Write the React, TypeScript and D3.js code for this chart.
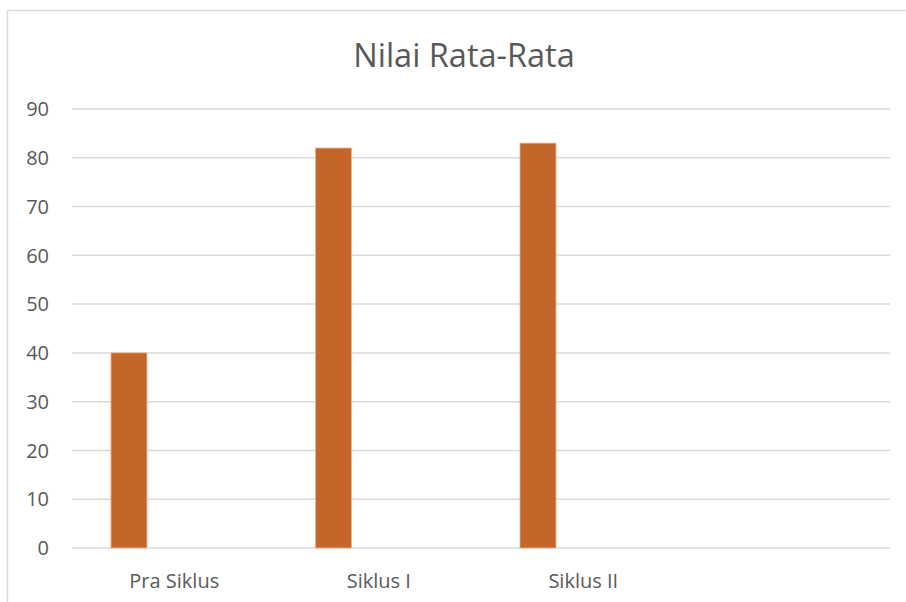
import React from "react";
import * as d3 from "d3";

const categories = ["Pra Siklus", "Siklus I", "Siklus II", ""];
const seriesNames = ["Series1", "Series2", "Series3"];
const series1 = [40, 82, 83, null];
const yTicks = [0, 10, 20, 30, 40, 50, 60, 70, 80, 90];
const title = "Nilai Rata-Rata";

const width = 906,
  height = 602;
const margin = { top: 109, right: 16, bottom: 54, left: 72 };
const font = "'Open Sans', 'Noto Sans', sans-serif";
const textColor = "#595959";
const gridColor = "#d9d9d9";
const barColor = "#c4662a";

const App = () => {
  const x = d3
    .scaleBand<string>()
    .domain(categories.map((c, i) => `${i}`))
    .range([margin.left, width - margin.right])
    .padding(0);

  // hidden empty series push the first bar left inside each category
  const xInner = d3
    .scaleBand<string>()
    .domain(seriesNames)
    .range([0, x.bandwidth()])
    .paddingInner(0)
    .paddingOuter(1.34)
    .align(0.404);

  const y = d3
    .scaleLinear()
    .domain([0, 90])
    .range([height - margin.bottom, margin.top]);

  return (
    <div style={{ position: "fixed", left: 0, top: 0 }}>
      <svg width={width} height={height} style={{ display: "block", background: "#fff" }}>
        <rect
          x={7.5}
          y={10.5}
          width={width + 20}
          height={height + 20}
          fill="#fff"
          stroke={gridColor}
          strokeWidth={1.5}
        />
        <text
          x={width / 2 + 11}
          y={67}
          textAnchor="middle"
          fill={textColor}
          style={{ font: `32.5px ${font}` }}
        >
          {title}
        </text>
        <g>
          {yTicks.map((t) => (
            <g key={t}>
              <line
                x1={margin.left}
                x2={width - margin.right}
                y1={y(t)}
                y2={y(t)}
                stroke={gridColor}
                strokeWidth={1.5}
              />
              <text
                x={49}
                y={y(t)}
                dy="0.36em"
                textAnchor="end"
                fill={textColor}
                style={{ font: `20px ${font}` }}
              >
                {t}
              </text>
            </g>
          ))}
        </g>
        <g>
          {series1.map((v, i) =>
            v == null ? null : (
              <rect
                key={i}
                x={(x(`${i}`) ?? 0) + (xInner(seriesNames[0]) ?? 0)}
                y={y(v)}
                width={xInner.bandwidth()}
                height={y(0) - y(v)}
                fill={barColor}
                stroke="#f0b48c"
                strokeWidth={0.75}
              />
            )
          )}
        </g>
        <g>
          {categories.map((c, i) => (
            <text
              key={i}
              x={(x(`${i}`) ?? 0) + x.bandwidth() / 2}
              y={588}
              textAnchor="middle"
              fill={textColor}
              style={{ font: `20px ${font}` }}
            >
              {c}
            </text>
          ))}
        </g>
      </svg>
    </div>
  );
};

export default App;
